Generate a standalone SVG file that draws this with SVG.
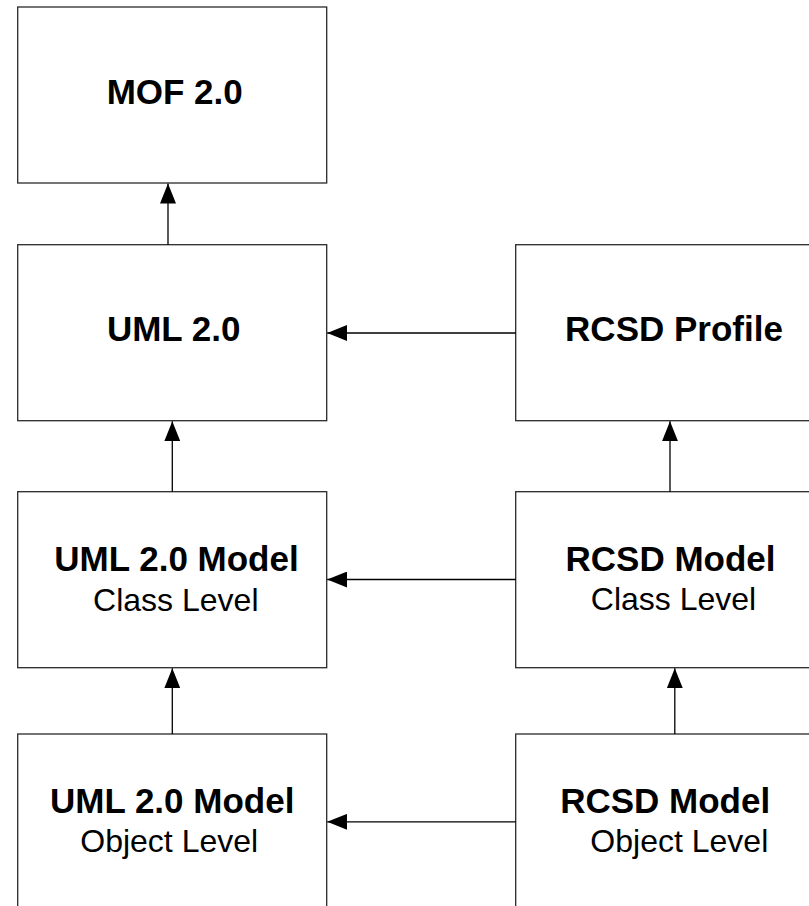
<svg xmlns="http://www.w3.org/2000/svg" width="809" height="906" viewBox="0 0 809 906">
  <style>
    .box { fill: #ffffff; stroke: #2a2a2a; stroke-width: 1.3; }
    .t { font-family: "Liberation Sans", Arial, sans-serif; fill: #000000; text-anchor: middle; }
    .b { font-weight: bold; font-size: 35px; }
    .r { font-weight: normal; font-size: 32px; }
    .edge { stroke: #000000; stroke-width: 1.3; fill: none; marker-end: url(#arrow); }
  </style>
  <defs>
    <marker id="arrow" viewBox="0 0 20 16" refX="20" refY="8" markerWidth="20" markerHeight="16" markerUnits="userSpaceOnUse" orient="auto">
      <path d="M0,0 L20,8 L0,16 Z" fill="#000000"/>
    </marker>
  </defs>
  <rect width="809" height="906" fill="#ffffff"/>

  <g id="mof">
    <rect class="box" x="17.7" y="7" width="309" height="176"/>
    <text class="t b" x="174.7" y="104">MOF 2.0</text>
  </g>
  <g id="uml">
    <rect class="box" x="17.7" y="244.7" width="309" height="176"/>
    <text class="t b" x="173.7" y="341">UML 2.0</text>
  </g>
  <g id="rcsd-profile">
    <rect class="box" x="515.7" y="244.7" width="309" height="176"/>
    <text class="t b" x="674" y="340.7">RCSD Profile</text>
  </g>
  <g id="uml-model-class">
    <rect class="box" x="17.7" y="491.7" width="309" height="176"/>
    <text class="t b" x="176.5" y="570.7">UML 2.0 Model</text>
    <text class="t r" x="175.8" y="610.7">Class Level</text>
  </g>
  <g id="rcsd-model-class">
    <rect class="box" x="515.7" y="491.7" width="309" height="176"/>
    <text class="t b" x="670.5" y="570.7">RCSD Model</text>
    <text class="t r" x="673.5" y="610.3">Class Level</text>
  </g>
  <g id="uml-model-object">
    <rect class="box" x="17.7" y="734" width="309" height="190"/>
    <text class="t b" x="172.2" y="813.3">UML 2.0 Model</text>
    <text class="t r" x="169.2" y="852.3">Object Level</text>
  </g>
  <g id="rcsd-model-object">
    <rect class="box" x="515.7" y="734" width="309" height="190"/>
    <text class="t b" x="665.2" y="813.3">RCSD Model</text>
    <text class="t r" x="679.3" y="852.3">Object Level</text>
  </g>

  <g id="connectors">
    <line class="edge" x1="168" y1="244.7" x2="168" y2="183.5"/>
    <line class="edge" x1="172.3" y1="491.7" x2="172.3" y2="421.2"/>
    <line class="edge" x1="172.3" y1="734" x2="172.3" y2="668.2"/>
    <line class="edge" x1="670" y1="491.7" x2="670" y2="421.2"/>
    <line class="edge" x1="674.8" y1="734" x2="674.8" y2="668.2"/>
    <line class="edge" x1="515.7" y1="333" x2="327.2" y2="333"/>
    <line class="edge" x1="515.7" y1="579.5" x2="327.2" y2="579.5"/>
    <line class="edge" x1="515.7" y1="821.8" x2="327.2" y2="821.8"/>
  </g>
</svg>
